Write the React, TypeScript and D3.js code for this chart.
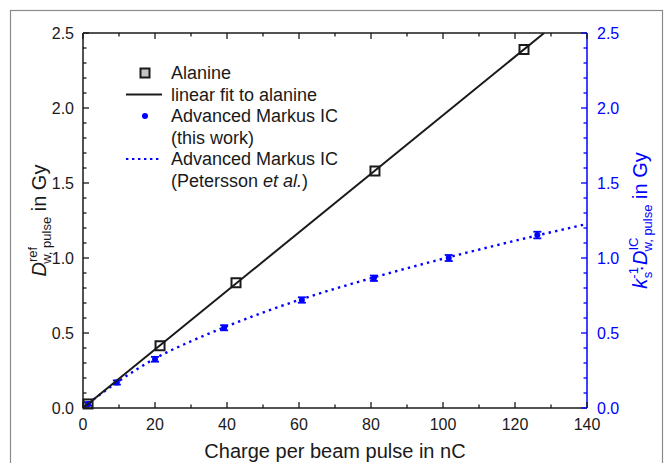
import React from "react";
import * as d3 from "d3";

// ---- data ----
const alanineX = [1.4, 21.4, 42.5, 81.1, 122.5];
const alanineY = [0.027, 0.415, 0.835, 1.58, 2.39];

const fitX = [0, 128.1];
const fitY = [0, 2.5];

const icX = [1.4, 9.4, 20.0, 39.2, 60.8, 80.8, 101.6, 126.2];
const icY = [0.027, 0.17, 0.325, 0.535, 0.72, 0.865, 1.0, 1.153];
const icErr = [0.012, 0.014, 0.016, 0.017, 0.018, 0.018, 0.02, 0.022];

const peterssonX = [0, 5, 10, 20, 30, 40, 60, 80, 100, 120, 140];
const peterssonY = [0, 0.095, 0.18, 0.33, 0.445, 0.545, 0.72, 0.865, 0.995, 1.115, 1.227];

const xTicks = [0, 20, 40, 60, 80, 100, 120, 140];
const xMinor = [10, 30, 50, 70, 90, 110, 130];
const yTicks = [0, 0.5, 1.0, 1.5, 2.0, 2.5];
const yMinor = [0.1, 0.2, 0.3, 0.4, 0.6, 0.7, 0.8, 0.9, 1.1, 1.2, 1.3, 1.4, 1.6, 1.7, 1.8, 1.9, 2.1, 2.2, 2.3, 2.4];

const legendLabels = [
  "Alanine",
  "linear fit to alanine",
  "Advanced Markus IC",
  "(this work)",
  "Advanced Markus IC",
];

const FONT = "'Liberation Sans', Arial, sans-serif";
const BLUE = "#0000ff";
const INK = "#1a1a1a";

export default function App() {
  const W = 666, H = 463;
  const L = 83, R = 587, T = 33, B = 408;
  const x = d3.scaleLinear().domain([0, 140]).range([L, R]);
  const y = d3.scaleLinear().domain([0, 2.5]).range([B, T]);

  const fitLine = d3.line<number>().x((_, i) => x(fitX[i])).y((_, i) => y(fitY[i]));
  const petLine = d3
    .line<number>()
    .x((_, i) => x(peterssonX[i]))
    .y((_, i) => y(peterssonY[i]))
    .curve(d3.curveMonotoneX);

  const major = 6, minor = 3.5;
  const sq = 9;

  const legendY = [73, 94.5, 116, 137.5, 159, 180.5];

  return (
    <svg
      width={W}
      height={H}
      style={{ position: "absolute", left: 0, top: 0, background: "#fff" }}
      fontFamily={FONT}
    >
      <rect x={0} y={0} width={W} height={H} fill="#fff" />
      {/* outer frame */}
      <rect x={10.5} y={10.5} width={652} height={480} fill="none" stroke="#8a8a8a" strokeWidth={1.2} />

      {/* clip for plot */}
      <defs>
        <clipPath id="plotclip">
          <rect x={L} y={T} width={R - L} height={B - T} />
        </clipPath>
      </defs>

      {/* Petersson dotted curve */}
      <path
        d={petLine(peterssonX) || ""}
        fill="none"
        stroke={BLUE}
        strokeWidth={2.4}
        strokeDasharray="2.4,4.2"
        clipPath="url(#plotclip)"
      />

      {/* IC points with error bars */}
      {icX.map((v, i) => {
        const cx = x(v), cy = y(icY[i]);
        const y1 = y(icY[i] + icErr[i]), y2 = y(icY[i] - icErr[i]);
        return (
          <g key={"ic" + i}>
            <line x1={cx} x2={cx} y1={y1} y2={y2} stroke={BLUE} strokeWidth={1.5} />
            <line x1={cx - 4} x2={cx + 4} y1={y1} y2={y1} stroke={BLUE} strokeWidth={1.8} />
            <line x1={cx - 4} x2={cx + 4} y1={y2} y2={y2} stroke={BLUE} strokeWidth={1.8} />
            <circle cx={cx} cy={cy} r={3} fill={BLUE} />
          </g>
        );
      })}

      {/* alanine squares */}
      {alanineX.map((v, i) => (
        <rect
          key={"al" + i}
          x={x(v) - sq / 2}
          y={y(alanineY[i]) - sq / 2}
          width={sq}
          height={sq}
          fill="none"
          stroke={INK}
          strokeWidth={2}
        />
      ))}

      {/* linear fit */}
      <path d={fitLine(fitX) || ""} fill="none" stroke={INK} strokeWidth={2} clipPath="url(#plotclip)" />

      {/* axes lines */}
      <line x1={L} x2={R} y1={B} y2={B} stroke={INK} strokeWidth={1.5} />
      <line x1={L} x2={R} y1={T} y2={T} stroke={INK} strokeWidth={1.5} />
      <line x1={L} x2={L} y1={T} y2={B} stroke={INK} strokeWidth={1.5} />
      <line x1={R} x2={R} y1={T} y2={B} stroke={BLUE} strokeWidth={1.5} />

      {/* x ticks (bottom & top, inward) */}
      {xTicks.map((t) => (
        <g key={"xt" + t}>
          <line x1={x(t)} x2={x(t)} y1={B} y2={B - major} stroke={INK} strokeWidth={1.3} />
          <line x1={x(t)} x2={x(t)} y1={T} y2={T + major} stroke={INK} strokeWidth={1.3} />
          <text x={x(t)} y={430} fontSize={16} textAnchor="middle" fill={INK}>
            {t}
          </text>
        </g>
      ))}
      {xMinor.map((t) => (
        <g key={"xm" + t}>
          <line x1={x(t)} x2={x(t)} y1={B} y2={B - minor} stroke={INK} strokeWidth={1.3} />
          <line x1={x(t)} x2={x(t)} y1={T} y2={T + minor} stroke={INK} strokeWidth={1.3} />
        </g>
      ))}

      {/* y ticks left (black) and right (blue) */}
      {yTicks.map((t) => (
        <g key={"yt" + t}>
          <line x1={L} x2={L + major} y1={y(t)} y2={y(t)} stroke={INK} strokeWidth={1.3} />
          <line x1={R} x2={R - major} y1={y(t)} y2={y(t)} stroke={BLUE} strokeWidth={1.3} />
          <text x={74} y={y(t) + 5.7} fontSize={16} textAnchor="end" fill={INK}>
            {t.toFixed(1)}
          </text>
          <text x={597} y={y(t) + 5.7} fontSize={16} textAnchor="start" fill={BLUE}>
            {t.toFixed(1)}
          </text>
        </g>
      ))}
      {yMinor.map((t) => (
        <g key={"ym" + t}>
          <line x1={L} x2={L + minor} y1={y(t)} y2={y(t)} stroke={INK} strokeWidth={1.3} />
          <line x1={R} x2={R - minor} y1={y(t)} y2={y(t)} stroke={BLUE} strokeWidth={1.3} />
        </g>
      ))}

      {/* x axis title */}
      <text x={(L + R) / 2} y={458} fontSize={20} textAnchor="middle" fill={INK}>
        Charge per beam pulse in nC
      </text>

      {/* left y title */}
      <g transform={`translate(46, ${(T + B) / 2}) rotate(-90)`}>
        <text x={0} y={0} fontSize={20} textAnchor="middle" fill={INK}>
          <tspan fontStyle="italic">D</tspan>
          <tspan fontSize={13} dy={-9}>ref</tspan>
          <tspan fontSize={13} dx={-17} dy={14}>w, pulse</tspan>
          <tspan dy={-5}> in Gy</tspan>
        </text>
      </g>

      {/* right y title */}
      <g transform={`translate(647, ${(T + B) / 2}) rotate(-90)`}>
        <text x={0} y={0} fontSize={20} textAnchor="middle" fill={BLUE}>
          <tspan fontStyle="italic">k</tspan>
          <tspan fontSize={13} dy={-9}>-1</tspan>
          <tspan fontSize={13} dx={-11} dy={14}>s</tspan>
          <tspan dy={-5}>·</tspan>
          <tspan fontStyle="italic">D</tspan>
          <tspan fontSize={13} dy={-9}>IC</tspan>
          <tspan fontSize={13} dx={-14} dy={14}>w, pulse</tspan>
          <tspan dy={-5}> in Gy</tspan>
        </text>
      </g>

      {/* legend */}
      <rect x={145 - 4.5} y={legendY[0] - 4.5} width={9} height={9} fill="#c4c4c4" stroke={INK} strokeWidth={2} />
      <line x1={126} x2={162} y1={legendY[1]} y2={legendY[1]} stroke={INK} strokeWidth={2} />
      <circle cx={145} cy={legendY[2]} r={3} fill={BLUE} />
      <line x1={126} x2={162} y1={legendY[4]} y2={legendY[4]} stroke={BLUE} strokeWidth={2} strokeDasharray="2.4,3.6" />
      {legendLabels.map((s, i) => (
        <text key={"lg" + i} x={171} y={legendY[i] + 6.4} fontSize={18} fill={INK}>
          {s}
        </text>
      ))}
      <text x={171} y={legendY[5] + 6.4} fontSize={18} fill={INK}>
        (Petersson <tspan fontStyle="italic">et al.</tspan>)
      </text>
    </svg>
  );
}
